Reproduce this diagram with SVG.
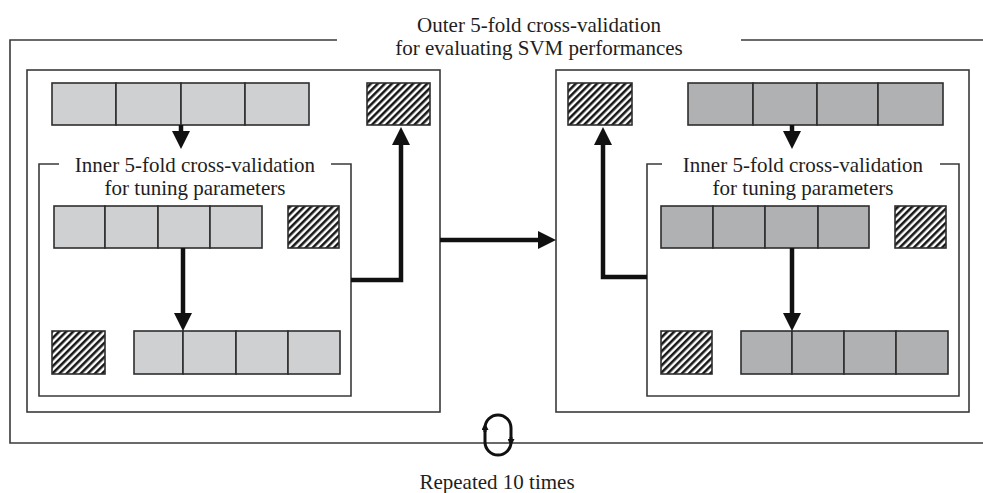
<svg xmlns="http://www.w3.org/2000/svg" width="983" height="493" viewBox="0 0 983 493">
  <style>
    .frame { fill: none; stroke: #3a3a3a; stroke-width: 1.6; }
    .light { fill: #cfd0d2; stroke: #2e2e2e; stroke-width: 1.6; }
    .dark { fill: #b0b1b3; stroke: #2e2e2e; stroke-width: 1.6; }
    .hatch { fill: url(#diag); stroke: #2e2e2e; stroke-width: 1.6; }
    .flow { fill: none; stroke: #111; stroke-width: 4.5; marker-end: url(#head); }
    .label { font-family: "Liberation Serif", "Times New Roman", serif; font-size: 21px; fill: #1e1e1e; text-anchor: middle; }
  </style>
  <defs>
    <pattern id="diag" patternUnits="userSpaceOnUse" width="5" height="5" patternTransform="rotate(45)">
      <rect width="5" height="5" fill="#fff"/>
      <line x1="1.3" y1="0" x2="1.3" y2="5" stroke="#111" stroke-width="2.5"/>
    </pattern>
    <marker id="head" markerUnits="userSpaceOnUse" markerWidth="18" markerHeight="18" viewBox="0 0 18 18" refX="0" refY="9" orient="auto">
      <path d="M0,0 L18,9 L0,18 Z" fill="#111"/>
    </marker>
    <marker id="tiny" markerUnits="userSpaceOnUse" markerWidth="7" markerHeight="7" viewBox="0 0 7 7" refX="3" refY="3.5" orient="auto">
      <path d="M0,0 L7,3.5 L0,7 Z" fill="#111"/>
    </marker>
  </defs>

  <!-- outer repeated cross-validation frame -->
  <g id="outer">
    <path class="frame" d="M337,40 H10 V443 H983"/>
    <path class="frame" d="M741,40 H983"/>
    <text class="label" x="539" y="32">Outer 5-fold cross-validation</text>
    <text class="label" x="539" y="55">for evaluating SVM performances</text>
  </g>

  <!-- left outer fold -->
  <g id="fold-left">
    <rect class="frame" x="27" y="70" width="413" height="342"/>
    <g id="left-train">
      <rect class="light" x="52" y="83" width="64" height="42"/>
      <rect class="light" x="116" y="83" width="65" height="42"/>
      <rect class="light" x="181" y="83" width="64" height="42"/>
      <rect class="light" x="245" y="83" width="64" height="42"/>
    </g>
    <rect id="left-test" class="hatch" x="367" y="83" width="63" height="42"/>
    <g id="left-inner">
      <path class="frame" d="M59,164 H39 V396 H351 V164 H331"/>
      <text class="label" x="195" y="172">Inner 5-fold cross-validation</text>
      <text class="label" x="195" y="195">for tuning parameters</text>
      <rect class="light" x="54" y="206" width="51" height="42"/>
      <rect class="light" x="105" y="206" width="53" height="42"/>
      <rect class="light" x="158" y="206" width="52" height="42"/>
      <rect class="light" x="210" y="206" width="52" height="42"/>
      <rect class="hatch" x="288" y="206" width="51" height="42"/>
      <rect class="hatch" x="52" y="331" width="53" height="43"/>
      <rect class="light" x="134" y="331" width="49" height="43"/>
      <rect class="light" x="183" y="331" width="53" height="43"/>
      <rect class="light" x="236" y="331" width="52" height="43"/>
      <rect class="light" x="288" y="331" width="52" height="43"/>
    </g>
  </g>

  <!-- right outer fold -->
  <g id="fold-right">
    <rect class="frame" x="556" y="70" width="413" height="342"/>
    <rect id="right-test" class="hatch" x="568" y="83" width="64" height="42"/>
    <g id="right-train">
      <rect class="dark" x="688" y="83" width="65" height="42"/>
      <rect class="dark" x="753" y="83" width="64" height="42"/>
      <rect class="dark" x="817" y="83" width="61" height="42"/>
      <rect class="dark" x="878" y="83" width="65" height="42"/>
    </g>
    <g id="right-inner">
      <path class="frame" d="M662,164 H647 V396 H959 V164 H940"/>
      <text class="label" x="803" y="172">Inner 5-fold cross-validation</text>
      <text class="label" x="803" y="195">for tuning parameters</text>
      <rect class="dark" x="661" y="206" width="52" height="42"/>
      <rect class="dark" x="713" y="206" width="52" height="42"/>
      <rect class="dark" x="765" y="206" width="53" height="42"/>
      <rect class="dark" x="818" y="206" width="51" height="42"/>
      <rect class="hatch" x="895" y="206" width="51" height="42"/>
      <rect class="hatch" x="661" y="331" width="51" height="43"/>
      <rect class="dark" x="741" y="331" width="51" height="43"/>
      <rect class="dark" x="792" y="331" width="52" height="43"/>
      <rect class="dark" x="844" y="331" width="52" height="43"/>
      <rect class="dark" x="896" y="331" width="52" height="43"/>
    </g>
  </g>

  <!-- repetition loop -->
  <g id="repeat">
    <rect x="485" y="415" width="26" height="40" rx="13" fill="none" stroke="#111" stroke-width="3"/>
    <path d="M485,432 V427" fill="none" stroke="#111" stroke-width="3" marker-end="url(#tiny)"/>
    <path d="M511,437 V442" fill="none" stroke="#111" stroke-width="3" marker-end="url(#tiny)"/>
    <text class="label" x="497" y="489">Repeated 10 times</text>
  </g>

  <!-- connectors -->
  <g id="connectors">
    <path class="flow" d="M181,125 V131"/>
    <path class="flow" d="M183,248 V313"/>
    <path class="flow" d="M351,280 H401 V145"/>
    <path class="flow" d="M440,240 H538"/>
    <path class="flow" d="M792,125 V131"/>
    <path class="flow" d="M792,248 V313"/>
    <path class="flow" d="M647,277 H603 V145"/>
  </g>
</svg>
